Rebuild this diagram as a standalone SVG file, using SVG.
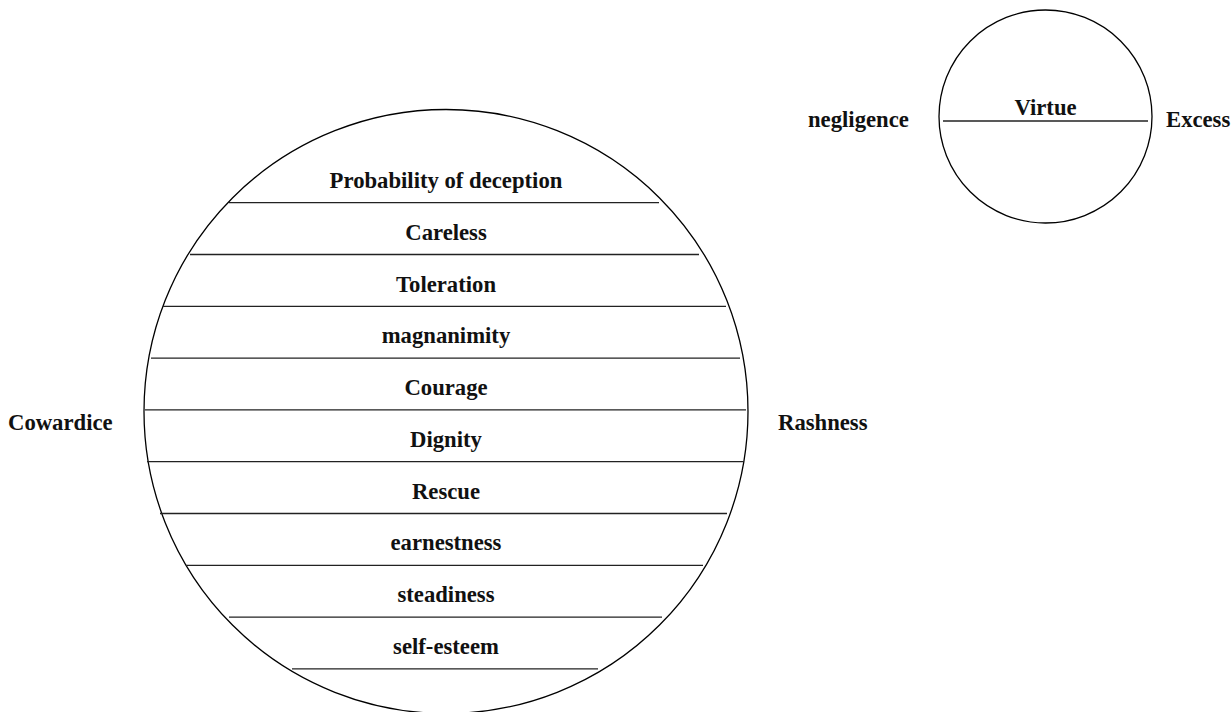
<svg xmlns="http://www.w3.org/2000/svg" width="1232" height="712" viewBox="0 0 1232 712">
<style>
.c{fill:none;stroke:#000;stroke-width:1.3}
.l{stroke:#222;stroke-width:1.3}
text{font-family:"Liberation Serif","Times New Roman",serif;font-weight:bold;font-size:22.7px;fill:#111}
.m{text-anchor:middle}
</style>
<rect width="1232" height="712" fill="#fff"/>
<g id="big-circle">
<circle class="c" cx="446" cy="411.5" r="302"/>
</g>
<g id="connectors">
<line class="l" x1="229" y1="202.7" x2="659" y2="202.7"/>
<line class="l" x1="190" y1="254.5" x2="699" y2="254.5"/>
<line class="l" x1="163" y1="306.3" x2="726" y2="306.3"/>
<line class="l" x1="151" y1="358.1" x2="740" y2="358.1"/>
<line class="l" x1="145" y1="409.9" x2="746" y2="409.9"/>
<line class="l" x1="147" y1="461.7" x2="744" y2="461.7"/>
<line class="l" x1="160" y1="513.5" x2="727" y2="513.5"/>
<line class="l" x1="186" y1="565.3" x2="703" y2="565.3"/>
<line class="l" x1="229" y1="617.1" x2="662" y2="617.1"/>
<line class="l" x1="292" y1="668.9" x2="598" y2="668.9"/>
<line class="l" x1="943" y1="121" x2="1148" y2="121"/>
</g>
<g id="layers">
<text class="m" x="446" y="188">Probability of deception</text>
<text class="m" x="446" y="239.5">Careless</text>
<text class="m" x="446" y="291.5">Toleration</text>
<text class="m" x="446" y="343">magnanimity</text>
<text class="m" x="446" y="394.5">Courage</text>
<text class="m" x="446" y="446.5">Dignity</text>
<text class="m" x="446" y="498.5">Rescue</text>
<text class="m" x="446" y="550">earnestness</text>
<text class="m" x="446" y="602">steadiness</text>
<text class="m" x="446" y="654">self-esteem</text>
</g>
<g id="cowardice"><text x="8" y="430">Cowardice</text></g>
<g id="rashness"><text x="778" y="430">Rashness</text></g>
<g id="small-circle">
<circle class="c" cx="1045.5" cy="116.5" r="106.5"/>
<text class="m" x="1045.5" y="115">Virtue</text>
</g>
<g id="negligence"><text x="808" y="127">negligence</text></g>
<g id="excess"><text x="1166" y="127">Excess</text></g>
</svg>
